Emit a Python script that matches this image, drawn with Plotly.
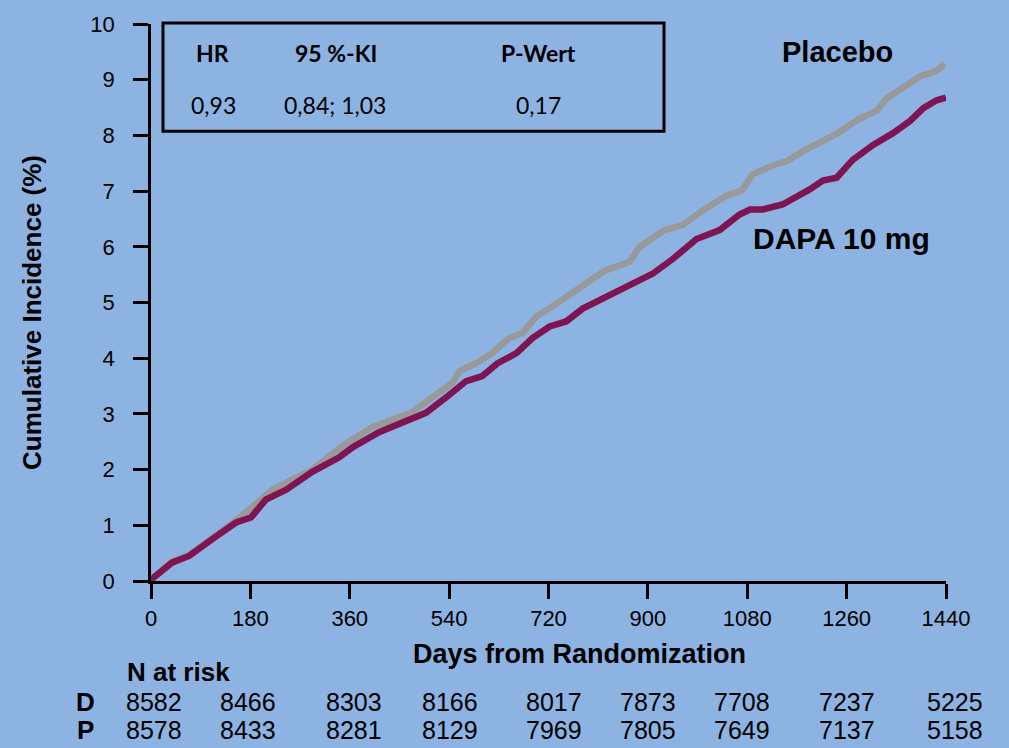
import plotly.graph_objects as go

# Cumulative incidence curves (days from randomization, %)
dapa_days = [0, 2, 38, 69, 118, 154, 181, 208, 245, 292, 341, 365, 413, 462, 498,
             535, 571, 600, 628, 662, 691, 722, 752, 782, 830, 872, 909, 945, 988,
             1030, 1066, 1085, 1108, 1144, 1170, 1193, 1217, 1242, 1271, 1308, 1344,
             1375, 1399, 1423, 1440]
dapa_pct = [0, 0.04, 0.33, 0.45, 0.8, 1.05, 1.14, 1.46, 1.64, 1.96, 2.22, 2.4, 2.67,
            2.88, 3.02, 3.3, 3.59, 3.68, 3.91, 4.09, 4.36, 4.57, 4.66, 4.89, 5.14,
            5.34, 5.52, 5.78, 6.14, 6.3, 6.58, 6.67, 6.67, 6.76, 6.89, 7.03, 7.19,
            7.24, 7.56, 7.83, 8.04, 8.26, 8.49, 8.63, 8.68]

placebo_days = [0, 2, 38, 69, 118, 154, 172, 220, 292, 353, 401, 473, 522, 546, 559,
                589, 618, 649, 673, 698, 727, 776, 822, 867, 885, 930, 963, 999, 1043,
                1070, 1090, 1126, 1152, 1181, 1206, 1244, 1278, 1315, 1333, 1357, 1393,
                1423, 1438]
placebo_pct = [0, 0.04, 0.35, 0.47, 0.82, 1.08, 1.23, 1.64, 2.0, 2.47, 2.76, 3.03,
               3.38, 3.56, 3.77, 3.91, 4.09, 4.36, 4.45, 4.75, 4.93, 5.25, 5.57, 5.73,
               6.0, 6.3, 6.39, 6.65, 6.92, 7.01, 7.3, 7.46, 7.54, 7.72, 7.86, 8.04,
               8.27, 8.45, 8.67, 8.84, 9.06, 9.16, 9.29]

x_ticks = [0, 180, 360, 540, 720, 900, 1080, 1260, 1440]
y_ticks = list(range(0, 11))

# Numbers at risk
risk_dapa = [8582, 8466, 8303, 8166, 8017, 7873, 7708, 7237, 5225]
risk_placebo = [8578, 8433, 8281, 8129, 7969, 7805, 7649, 7137, 5158]

# Summary statistics box
stat_headers = ["HR", "95 %-KI", "P-Wert"]
stat_values = ["0,93", "0,84; 1,03", "0,17"]

BG = "#8DB3E2"
GRAY = "#999999"
MAROON = "#7F1550"
FONT = "Liberation Sans, Arial, sans-serif"
BOX_FONT = "Lato, Carlito, Calibri, sans-serif"

W, H = 1009, 748
L, R, T, B = 151, 63, 20, 167
PW, PH = W - L - R, H - T - B


def px_x(px):
    return (px - L) / PW


def px_y(py):
    return (H - B - py) / PH


fig = go.Figure()
fig.add_trace(go.Scatter(x=placebo_days, y=placebo_pct, mode="lines",
                         line=dict(color=GRAY, width=6.5), name="Placebo"))
fig.add_trace(go.Scatter(x=dapa_days, y=dapa_pct, mode="lines",
                         line=dict(color=MAROON, width=6.5), name="DAPA 10 mg"))

annotations = []


def add_text(text, px, py, size, bold=False, family=FONT, anchor="center"):
    annotations.append(dict(
        text=f"<b>{text}</b>" if bold else text,
        x=px_x(px), y=px_y(py - 2), xref="paper", yref="paper",
        xanchor=anchor, yanchor="middle", showarrow=False,
        font=dict(family=family, size=size, color="black")))


# Axis titles
annotations.append(dict(
    text="<b>Cumulative Incidence (%)</b>", x=px_x(32), y=px_y(311),
    xref="paper", yref="paper", xanchor="center", yanchor="middle",
    textangle=-90, showarrow=False,
    font=dict(family=FONT, size=26, color="black")))
add_text("Days from Randomization", 579, 657, 27, bold=True)

# Curve labels
add_text("Placebo", 837, 50, 29, bold=True)
add_text("DAPA 10 mg", 841, 238, 30, bold=True)

# Statistics box text
header_x = [212, 336, 538]
value_x = [213, 335, 538]
for t, px in zip(stat_headers, header_x):
    add_text(t, px, 51, 23, bold=True, family=BOX_FONT)
for t, px in zip(stat_values, value_x):
    add_text(t, px, 104, 23, family=BOX_FONT)

# Numbers-at-risk table
add_text("N at risk", 178, 675, 26, bold=True)
add_text("D", 85, 705, 26, bold=True)
add_text("P", 85, 733, 26, bold=True)
risk_px = [154, 248, 354, 450, 554, 648, 742, 847, 955]
for n, px in zip(risk_dapa, risk_px):
    add_text(str(n), px, 705, 25)
for n, px in zip(risk_placebo, risk_px):
    add_text(str(n), px, 733, 25)

fig.update_layout(
    width=W, height=H,
    margin=dict(l=L, r=R, t=T, b=B, pad=0),
    paper_bgcolor=BG, plot_bgcolor=BG,
    showlegend=False,
    annotations=annotations,
    shapes=[dict(type="rect", xref="paper", yref="paper",
                 x0=px_x(163), x1=px_x(664), y0=px_y(128), y1=px_y(19),
                 line=dict(color="black", width=3), fillcolor="rgba(0,0,0,0)")],
    xaxis=dict(range=[0, 1440], tickvals=x_ticks, ticktext=[str(v) for v in x_ticks],
               showgrid=False, zeroline=False, showline=True, linecolor="black",
               linewidth=2.5, ticks="outside", ticklen=15, tickwidth=2.5,
               tickcolor="black", ticklabelstandoff=1,
               tickfont=dict(family=FONT, size=22, color="black")),
    yaxis=dict(range=[0, 10], tickvals=y_ticks, showgrid=False, zeroline=False,
               showline=True, linecolor="black", linewidth=2.5, ticks="outside",
               ticklen=15, tickwidth=2.5, tickcolor="black", ticklabelstandoff=14,
               tickfont=dict(family=FONT, size=22, color="black")),
)

fig.write_html("out.html")
